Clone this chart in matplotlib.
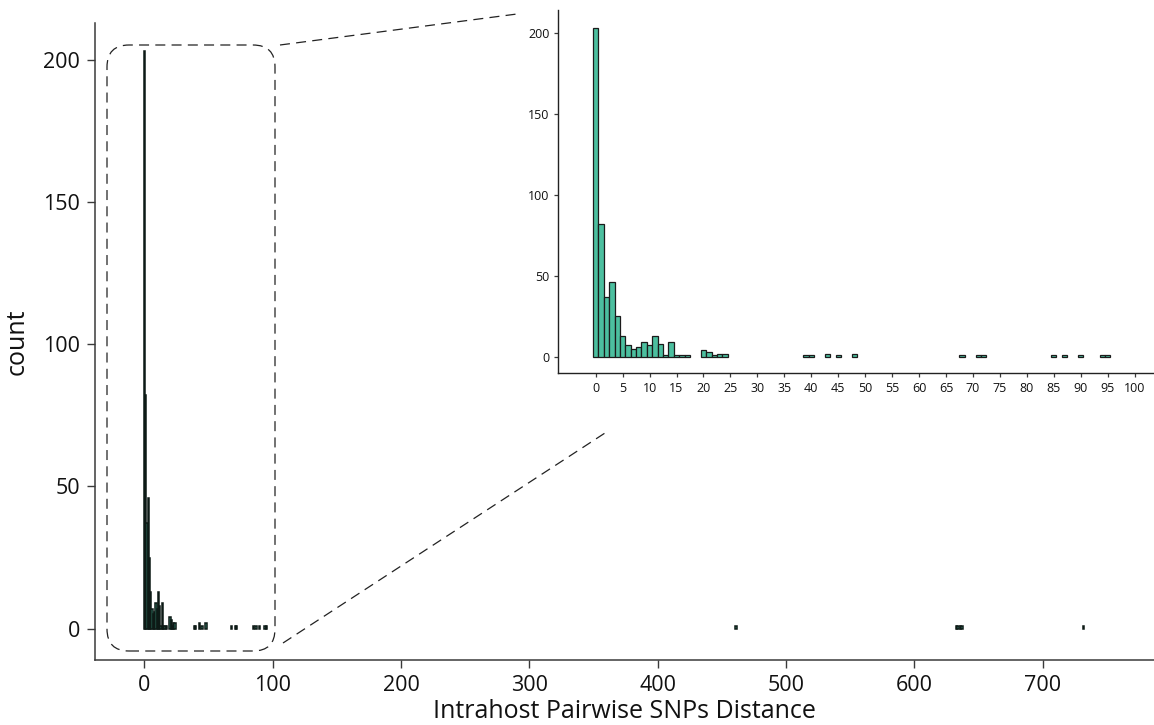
import matplotlib
matplotlib.use("Agg")
import matplotlib.pyplot as plt
from matplotlib.patches import FancyBboxPatch
from matplotlib.lines import Line2D

plt.rcParams['font.family'] = ['Open Sans', 'DejaVu Sans']

# pairwise SNP distance (bin centre) and number of pairs
snp_dist = [0, 1, 2, 3, 4, 5, 6, 7, 8, 9, 10, 11, 12, 13, 14, 15, 16, 17,
            20, 21, 22, 23, 24, 39, 40, 43, 45, 48, 68, 71, 72, 85, 87, 90,
            94, 95, 461, 633, 634, 636, 637, 732]
pair_count = [203, 82, 37, 46, 25, 13, 7, 5, 6, 9, 7, 13, 8, 1, 9, 1, 1, 1,
              4, 3, 1, 2, 2, 1, 1, 2, 1, 2, 1, 1, 1, 1, 1, 1,
              1, 1, 1, 1, 1, 1, 1, 1]

main_xticks = [0, 100, 200, 300, 400, 500, 600, 700]
count_ticks = [0, 50, 100, 150, 200]
inset_xticks = list(range(0, 101, 5))

W, H = 1154, 725
fill = '#4cbf9f'
edge = '#1b1b1b'
spine_col = '#3a3a3a'

fig = plt.figure(figsize=(W / 100, H / 100), dpi=100)

def frac(x0, y0, x1, y1):
    # pixel box (top-left origin) -> figure fraction [l, b, w, h]
    return [x0 / W, 1 - y1 / H, (x1 - x0) / W, (y1 - y0) / H]

ax = fig.add_axes(frac(95.3, 22.7, 1154, 660))
ax.bar(snp_dist, pair_count, width=1, color=fill, edgecolor='#0d1a16', linewidth=1.1)
ax.set_xlim(-38.2, 786.7)
ax.set_ylim(-11, 213)
ax.set_xticks(main_xticks)
ax.set_yticks(count_ticks)
ax.tick_params(labelsize=15.5, length=6, width=1, color=spine_col, pad=5,
               labelcolor='#111111')
for s in ['top', 'right']:
    ax.spines[s].set_visible(False)
for s in ['left', 'bottom']:
    ax.spines[s].set_color(spine_col)
    ax.spines[s].set_linewidth(1.1)
ax.set_xlabel('Intrahost Pairwise SNPs Distance', fontsize=18, labelpad=2,
              color='#111111')
ax.set_ylabel('count', fontsize=18, labelpad=10, color='#111111')

# zoomed inset of the 0-100 range
ins = fig.add_axes(frac(557.7, 10, 1154, 373.3))
ins.bar(snp_dist, pair_count, width=1, color=fill, edgecolor=edge, linewidth=0.9)
ins.set_xlim(-7.05, 103.6)
ins.set_ylim(-10.2, 214)
ins.set_xticks(inset_xticks)
ins.set_yticks(count_ticks)
ins.tick_params(labelsize=9, length=3, width=0.9, color=spine_col, pad=3,
                labelcolor='#111111')
for s in ['top', 'right']:
    ins.spines[s].set_visible(False)
for s in ['left', 'bottom']:
    ins.spines[s].set_color('#222222')
    ins.spines[s].set_linewidth(1.0)

# dashed zoom marker (pixel coords -> inches)
def px(x, y):
    return (x / 100, (H - y) / 100)

dash = (0, (8, 5))
bx0, by0 = px(107, 651)
bx1, by1 = px(275, 45)
box = FancyBboxPatch((bx0, by0), bx1 - bx0, by1 - by0,
                     boxstyle='round,pad=0,rounding_size=0.22',
                     transform=fig.dpi_scale_trans, fill=False,
                     edgecolor='#222222', linewidth=0.9, linestyle=dash)
fig.add_artist(box)
for (xa, ya), (xb, yb) in [((280, 45), (517, 14)), ((283, 643), (605, 433))]:
    p0, p1 = px(xa, ya), px(xb, yb)
    fig.add_artist(Line2D([p0[0], p1[0]], [p0[1], p1[1]],
                          transform=fig.dpi_scale_trans, color='#222222',
                          linewidth=0.9, linestyle=dash))

fig.savefig('out.png', dpi=100)
